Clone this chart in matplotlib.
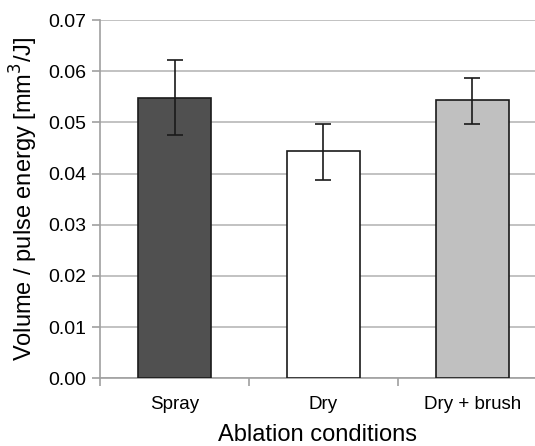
import numpy as np
import matplotlib.pyplot as plt

plt.rcParams['font.family'] = ['Liberation Sans', 'DejaVu Sans']

# data
conditions = ['Spray', 'Dry', 'Dry + brush']
volume_per_energy = [0.0548, 0.0444, 0.0544]
err_upper = [0.0622, 0.0497, 0.0587]
err_lower = [0.0475, 0.0387, 0.0497]
bar_colors = ['#505050', '#ffffff', '#c0c0c0']

vals = np.array(volume_per_energy)
yerr = [vals - np.array(err_lower), np.array(err_upper) - vals]

fig = plt.figure(figsize=(5.35, 4.46), dpi=100)
ax = fig.add_axes([0.187, 0.152, 0.813, 0.803])

x = np.arange(len(conditions))
ax.bar(x, vals, width=0.49, color=bar_colors, edgecolor='#1a1a1a', linewidth=1.2, zorder=3)
ax.errorbar(x, vals, yerr=yerr, fmt='none', ecolor='#1a1a1a', elinewidth=1.2,
            capsize=6, capthick=1.2, zorder=4)

ax.set_ylim(0, 0.07)
ax.set_yticks(np.arange(0, 0.071, 0.01))
ax.set_yticklabels(['%.2f' % v for v in np.arange(0, 0.071, 0.01)], fontsize=14)
ax.yaxis.grid(True, color='#b8b8b8', linewidth=1.2, zorder=0)
ax.set_axisbelow(True)

ax.set_xlim(-0.5, 2.42)
ax.set_xticks([-0.5, 0.5, 1.5])
ax.set_xticklabels([])
ax.set_xticks(x, minor=True)
ax.set_xticklabels(conditions, minor=True, fontsize=13.5)
ax.tick_params(axis='x', which='minor', length=0, pad=13)
ax.tick_params(axis='x', which='major', length=6, color='#a0a0a0', width=1.2)
ax.tick_params(axis='y', length=6, color='#a0a0a0', width=1.2, pad=4)

for s in ['top', 'right']:
    ax.spines[s].set_visible(False)
for s in ['left', 'bottom']:
    ax.spines[s].set_color('#a0a0a0')
    ax.spines[s].set_linewidth(1.2)

ax.set_ylabel('Volume / pulse energy [mm$^3$/J]', fontsize=17, labelpad=6)
ax.set_xlabel('Ablation conditions', fontsize=17, labelpad=8)

fig.savefig('out.png', dpi=100)
